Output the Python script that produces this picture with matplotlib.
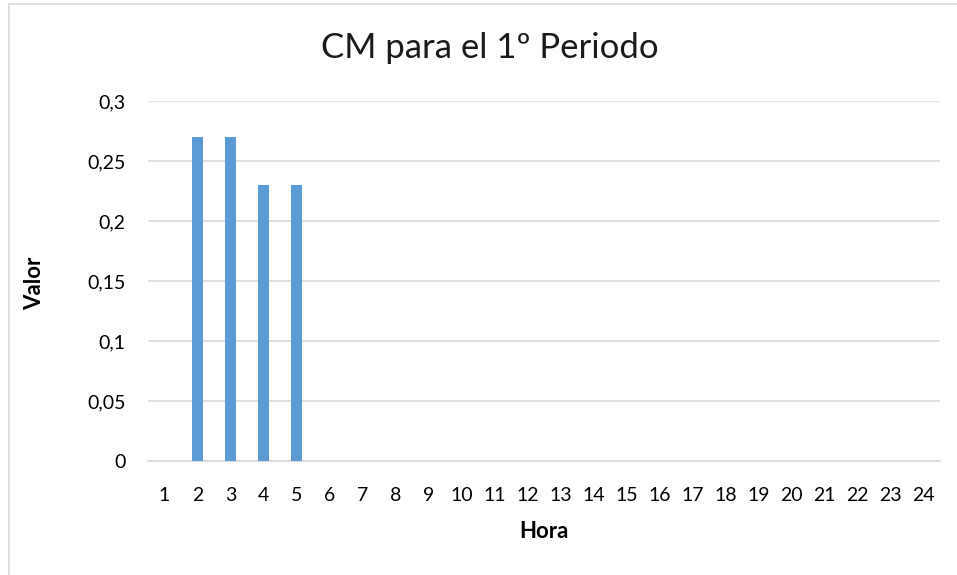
import matplotlib.pyplot as plt
from matplotlib.patches import Rectangle
from matplotlib.ticker import FuncFormatter

plt.rcParams['font.family'] = ['Lato', 'DejaVu Sans']

horas = list(range(1, 25))
valores = [0, 0.27, 0.27, 0.23, 0.23] + [0] * 19
y_ticks = [0, 0.05, 0.1, 0.15, 0.2, 0.25, 0.3]

W, H = 957, 575
fig = plt.figure(figsize=(W / 100, H / 100), dpi=100)
ax = fig.add_axes([148 / W, 1 - 461 / H, (940 - 148) / W, 360 / H])

# light gray chart border, as in the Excel export
fig.patches.append(Rectangle((9 / W, -0.01), 1.0, 1 - 4 / H + 0.01,
                             transform=fig.transFigure, fill=False,
                             edgecolor='#d9d9d9', linewidth=1.2))

ax.bar(horas, valores, width=0.33, color='#5b9bd5', zorder=3)

ax.set_xlim(0.5, 24.5)
ax.set_ylim(0, 0.3)
ax.set_xticks(horas)
ax.set_yticks(y_ticks)
ax.yaxis.set_major_formatter(FuncFormatter(lambda v, p: ('%g' % round(v, 2)).replace('.', ',')))
ax.grid(axis='y', color='#d9d9d9', linewidth=1.2, zorder=0)
ax.tick_params(length=0, labelsize=14, colors='#000000')
ax.tick_params(axis='x', pad=19)
ax.tick_params(axis='y', pad=16)
for s in ['top', 'right', 'left']:
    ax.spines[s].set_visible(False)
ax.spines['bottom'].set_color('#d9d9d9')
ax.spines['bottom'].set_linewidth(1.2)

fig.text(490 / W, 1 - 48 / H, 'CM para el 1º Periodo', fontsize=25,
         ha='center', va='center', color='#1a1a1a')
fig.text(544 / W, 1 - 531 / H, 'Hora', fontsize=16, fontweight='bold',
         ha='center', va='center')
fig.text(35 / W, 1 - 283 / H, 'Valor', fontsize=16, fontweight='bold',
         ha='center', va='center', rotation=90)

fig.savefig('out.png', dpi=100)
